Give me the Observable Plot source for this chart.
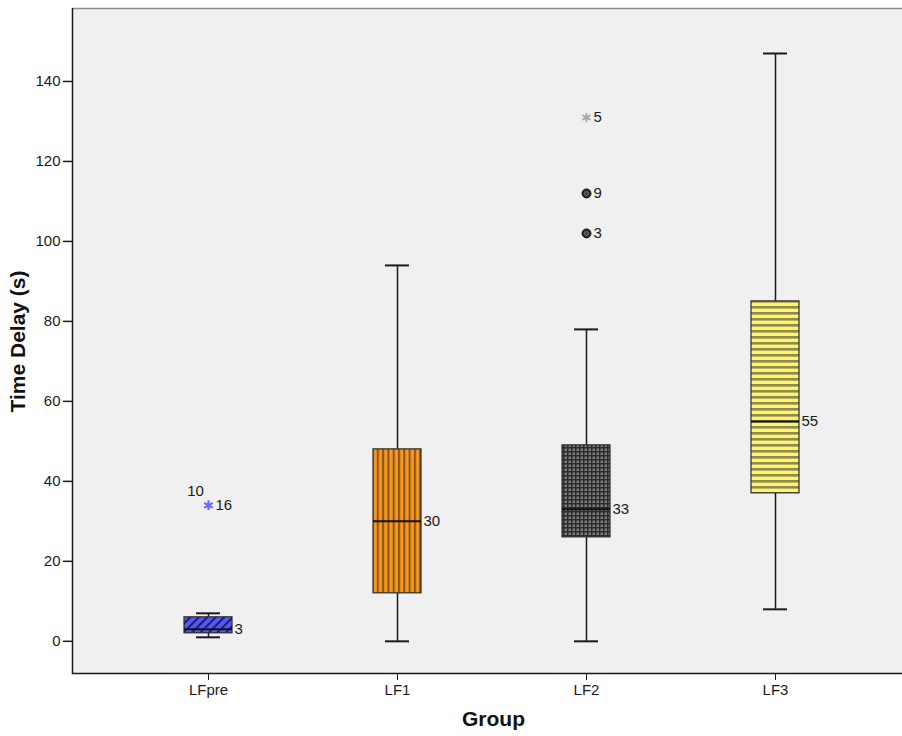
<!DOCTYPE html>
<html>
<head>
<meta charset="utf-8">
<script src="https://cdn.jsdelivr.net/npm/d3@7"></script>
<script src="https://cdn.jsdelivr.net/npm/@observablehq/plot@0.6"></script>
<style>
  html, body { margin: 0; padding: 0; background: #ffffff; }
  #chart svg { display: block; }
</style>
</head>
<body>
<div id="chart"></div>
<script>
// Box-plot summary per group (seconds)
const groups = ["LFpre", "LF1", "LF2", "LF3"];
const whiskerLow = [1, 0, 0, 8];
const q1 = [2, 12, 26, 37];
const median = [3, 30, 33, 55];
const q3 = [6, 48, 49, 85];
const whiskerHigh = [7, 94, 78, 147];

// Outlying cases: group, value, case number, type
const outlierGroup = ["LFpre", "LFpre", "LF2", "LF2", "LF2"];
const outlierValue = [34, 34, 102, 112, 131];
const outlierCase = ["16", "10", "3", "9", "5"];
const outlierKind = ["extreme", "extreme", "outlier", "outlier", "extreme"];

const yTicks = [0, 20, 40, 60, 80, 100, 120, 140];

// Fill pattern and extreme-marker colour for each group
const patternOf = {LFpre: "url(#pat-lfpre)", LF1: "url(#pat-lf1)", LF2: "url(#pat-lf2)", LF3: "url(#pat-lf3)"};
const starColor = {LFpre: "#6a6aff", LF1: "#f5a040", LF2: "#a8a8a8", LF3: "#d8d070"};

const boxes = groups.map((g, i) => ({
  group: g, low: whiskerLow[i], q1: q1[i], med: median[i], q3: q3[i], high: whiskerHigh[i]
}));

const outliers = outlierGroup.map((g, i) => ({
  group: g, value: outlierValue[i], label: outlierCase[i], kind: outlierKind[i]
}));
// a case sharing its spot with an earlier one gets its label above-left
outliers.forEach((d, i) => {
  d.stacked = outliers.slice(0, i).some(e => e.group === d.group && e.value === d.value);
});

// Background panel, frame lines and the box fill patterns
function panel(index, scales, values, dims) {
  const {width, height, marginLeft, marginTop, marginBottom, marginRight} = dims;
  const x0 = marginLeft, x1 = width - marginRight, y0 = marginTop, y1 = height - marginBottom;
  const g = d3.create("svg:g");
  const defs = g.append("defs");

  const p0 = defs.append("pattern").attr("id", "pat-lfpre").attr("patternUnits", "userSpaceOnUse")
    .attr("width", 6).attr("height", 6).attr("patternTransform", "rotate(45)");
  p0.append("rect").attr("width", 6).attr("height", 6).attr("fill", "#5656f2");
  p0.append("rect").attr("width", 2).attr("height", 6).attr("fill", "#1c1c6e");

  const p1 = defs.append("pattern").attr("id", "pat-lf1").attr("patternUnits", "userSpaceOnUse")
    .attr("width", 5.3).attr("height", 6).attr("x", 0.5);
  p1.append("rect").attr("width", 5.3).attr("height", 6).attr("fill", "#f7961e");
  p1.append("rect").attr("width", 2).attr("height", 6).attr("fill", "#8a5414");

  const p2 = defs.append("pattern").attr("id", "pat-lf2").attr("patternUnits", "userSpaceOnUse")
    .attr("width", 4).attr("height", 4);
  p2.append("rect").attr("width", 4).attr("height", 4).attr("fill", "#2c2c2c");
  p2.append("rect").attr("x", 0.5).attr("y", 0.5).attr("width", 2.5).attr("height", 2.5).attr("fill", "#7c7c7c");

  const p3 = defs.append("pattern").attr("id", "pat-lf3").attr("patternUnits", "userSpaceOnUse")
    .attr("width", 6).attr("height", 6);
  p3.append("rect").attr("width", 6).attr("height", 6).attr("fill", "#fdf36c");
  p3.append("rect").attr("width", 6).attr("height", 2.6).attr("fill", "#8e8a50");

  g.append("rect").attr("x", x0).attr("y", y0).attr("width", x1 - x0).attr("height", y1 - y0)
    .attr("fill", "#f0f0f0");
  g.append("line").attr("x1", x0).attr("x2", x1).attr("y1", y0 + 0.5).attr("y2", y0 + 0.5)
    .attr("stroke", "#8a8a8a").attr("stroke-width", 1.5);
  g.append("path").attr("d", `M${x0 + 0.5},${y0}V${y1 - 0.5}H${x1}`)
    .attr("fill", "none").attr("stroke", "#1a1a1a").attr("stroke-width", 1.5);
  return g.node();
}

const chart = Plot.plot({
  width: 902,
  height: 736,
  marginLeft: 72,
  marginRight: 0,
  marginTop: 8,
  marginBottom: 62,
  style: {fontFamily: "'Liberation Sans', Arial, sans-serif", color: "#1a1a1a", background: "#ffffff"},
  x: {type: "band", domain: groups, range: [113.5, 869.5], paddingInner: 0.746, paddingOuter: 0.373, align: 0.5},
  y: {domain: [-8.3, 158.25]},
  color: {type: "identity"},
  marks: [
    panel,
    Plot.axisY({ticks: yTicks, tickSize: 9, tickPadding: 3, fontSize: 15, label: null, stroke: "#1a1a1a", strokeWidth: 1.5}),
    Plot.axisX({tickSize: 6, tickPadding: 4, fontSize: 15, label: null, stroke: "#1a1a1a"}),
    // whiskers
    Plot.ruleX(boxes, {x: "group", y1: "low", y2: "q1", stroke: "#1a1a1a", strokeWidth: 1.5}),
    Plot.ruleX(boxes, {x: "group", y1: "q3", y2: "high", stroke: "#1a1a1a", strokeWidth: 1.5}),
    Plot.tickY(boxes, {x: "group", y: "low", insetLeft: 12, insetRight: 12, stroke: "#1a1a1a", strokeWidth: 2}),
    Plot.tickY(boxes, {x: "group", y: "high", insetLeft: 12, insetRight: 12, stroke: "#1a1a1a", strokeWidth: 2}),
    // boxes
    Plot.barY(boxes, {x: "group", y1: "q1", y2: "q3", fill: d => patternOf[d.group], stroke: "#2a2a2a", strokeWidth: 1.2}),
    Plot.tickY(boxes, {x: "group", y: "med", stroke: "#111111", strokeWidth: 2}),
    Plot.text(boxes, {x: "group", y: "med", text: d => String(d.med), dx: 26, textAnchor: "start", fontSize: 15, fill: "#1a1a1a"}),
    // outlying cases
    Plot.dot(outliers.filter(d => d.kind === "outlier"), {x: "group", y: "value", r: 4.5, fill: "#2b2b2b", stroke: "#111111", strokeWidth: 1}),
    Plot.dot(outliers.filter(d => d.kind === "outlier"), {x: "group", y: "value", r: 1.8, fill: "none", stroke: "#8a8a8a", strokeWidth: 1}),
    Plot.dot(outliers.filter(d => d.kind === "extreme"), {x: "group", y: "value", symbol: "asterisk", r: 4.5, stroke: d => starColor[d.group], strokeWidth: 1.8}),
    Plot.text(outliers.filter(d => !d.stacked), {x: "group", y: "value", text: "label", dx: 7, textAnchor: "start", fontSize: 15, fill: "#1a1a1a"}),
    Plot.text(outliers.filter(d => d.stacked), {x: "group", y: "value", text: "label", dx: -13, dy: -14, textAnchor: "middle", fontSize: 15, fill: "#1a1a1a"}),
    // axis titles
    Plot.text(["Time Delay (s)"], {frameAnchor: "left", textAnchor: "middle", lineAnchor: "middle", rotate: -90, dx: -54, fontWeight: "bold", fontSize: 21, fill: "#111111"}),
    Plot.text(["Group"], {frameAnchor: "bottom", textAnchor: "middle", lineAnchor: "middle", dx: 6, dy: 45, fontWeight: "bold", fontSize: 21, fill: "#111111"})
  ]
});

document.getElementById("chart").append(chart);
</script>
</body>
</html>
